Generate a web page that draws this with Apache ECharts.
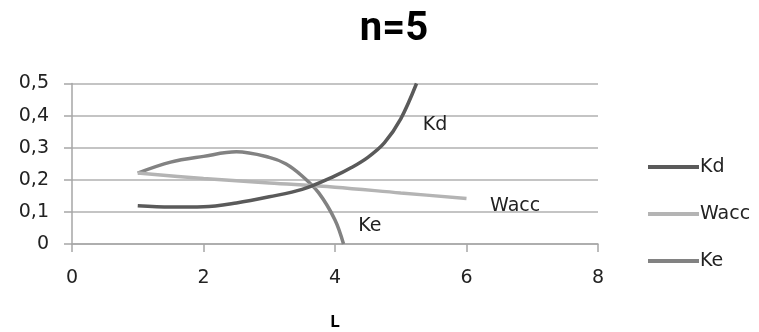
<!DOCTYPE html>
<html><head><meta charset="utf-8">
<script src="https://cdn.jsdelivr.net/npm/echarts@6/dist/echarts.min.js"></script>
<style>html,body{margin:0;padding:0;background:#fff}#c{width:759px;height:332px}</style>
</head><body><div id="c"></div>
<script>
var title = 'n=5';
var xName = 'L';
var seriesNames = ['Kd', 'Wacc', 'Ke'];
var kdL = [1, 1.5, 2, 2.5, 3, 3.5, 4, 4.25, 4.5, 4.75, 5, 5.24];
var kdV = [0.119, 0.115, 0.116, 0.128, 0.147, 0.17, 0.212, 0.238, 0.27, 0.315, 0.39, 0.5];
var waccL = [1, 2, 3, 4, 5, 6];
var waccV = [0.221, 0.204, 0.19, 0.177, 0.159, 0.142];
var keL = [1, 1.5, 2, 2.5, 3, 3.25, 3.5, 3.75, 4, 4.13];
var keV = [0.221, 0.255, 0.273, 0.287, 0.27, 0.25, 0.212, 0.16, 0.075, 0];
var xTicks = [0, 2, 4, 6, 8];
var yTicks = [0, 0.1, 0.2, 0.3, 0.4, 0.5];
var labelPos = {Kd: [5.52, 0.372], Wacc: [6.74, 0.118], Ke: [4.53, 0.055]};

function pairs(xs, ys){ return xs.map(function(x,i){return [x, ys[i]];}); }
var colors = ['#5a5a5a', '#b4b4b4', '#828282'];
var FONT = '"DejaVu Sans", "Open Sans", sans-serif';
var dataSets = [pairs(kdL, kdV), pairs(waccL, waccV), pairs(keL, keV)];

var chart = echarts.init(document.getElementById('c'), null, {renderer: 'canvas'});
chart.setOption({
  animation: false,
  backgroundColor: '#fff',
  title: {text: title, left: 389, top: 5, textAlign: 'center',
    textStyle: {fontFamily: 'Roboto, "Liberation Sans", sans-serif', fontWeight: 'bold', fontSize: 40, color: '#000'}},
  grid: {left: 72, right: 161, top: 83.5, bottom: 84.5},
  legend: {orient: 'vertical', left: 643, top: 152, itemWidth: 51, itemHeight: 4,
    itemGap: 27, icon: 'rect',
    data: seriesNames,
    textStyle: {fontFamily: FONT, fontSize: 19, color: '#222', lineHeight: 20, padding: [0,0,0,-4]}},
  xAxis: {type: 'value', min: 0, max: 8, interval: 2, name: xName, nameLocation: 'middle', nameGap: 70,
    nameTextStyle: {fontFamily: 'Roboto, "Liberation Sans", sans-serif', fontWeight: 'bold', fontSize: 17, color: '#000'},
    axisLine: {show: true, lineStyle: {color: '#a6a6a6', width: 1.5}},
    axisTick: {show: true, length: 8, lineStyle: {color: '#a6a6a6', width: 1.5}},
    axisLabel: {margin: 25, fontFamily: FONT, fontSize: 19, color: '#222',
      formatter: function(v){ return xTicks.indexOf(v) >= 0 ? String(v) : ''; }},
    splitLine: {show: false}},
  yAxis: {type: 'value', min: 0, max: 0.5, interval: 0.1,
    axisLine: {show: true, lineStyle: {color: '#a6a6a6', width: 1.5}},
    axisTick: {show: true, length: 8, lineStyle: {color: '#a6a6a6', width: 1.5}},
    axisLabel: {margin: 23, fontFamily: FONT, fontSize: 19, color: '#222',
      formatter: function(v){ var r = Math.round(v*10)/10; return yTicks.indexOf(r) >= 0 ? String(r).replace('.', ',') : ''; }},
    splitLine: {show: true, lineStyle: {color: '#b0b0b0', width: 1.5}}},
  series: seriesNames.map(function(n, i){
    return {name: n, type: 'line', smooth: 0.35, showSymbol: false, symbol: 'none',
      data: dataSets[i], color: colors[i], lineStyle: {width: 3.5, color: colors[i]}, z: 3 - i,
      markPoint: {symbol: 'circle', symbolSize: 0,
        label: {show: true, formatter: n, fontFamily: FONT, fontSize: 19, color: '#222'},
        data: [{coord: labelPos[n]}]}};
  })
});
</script></body></html>
